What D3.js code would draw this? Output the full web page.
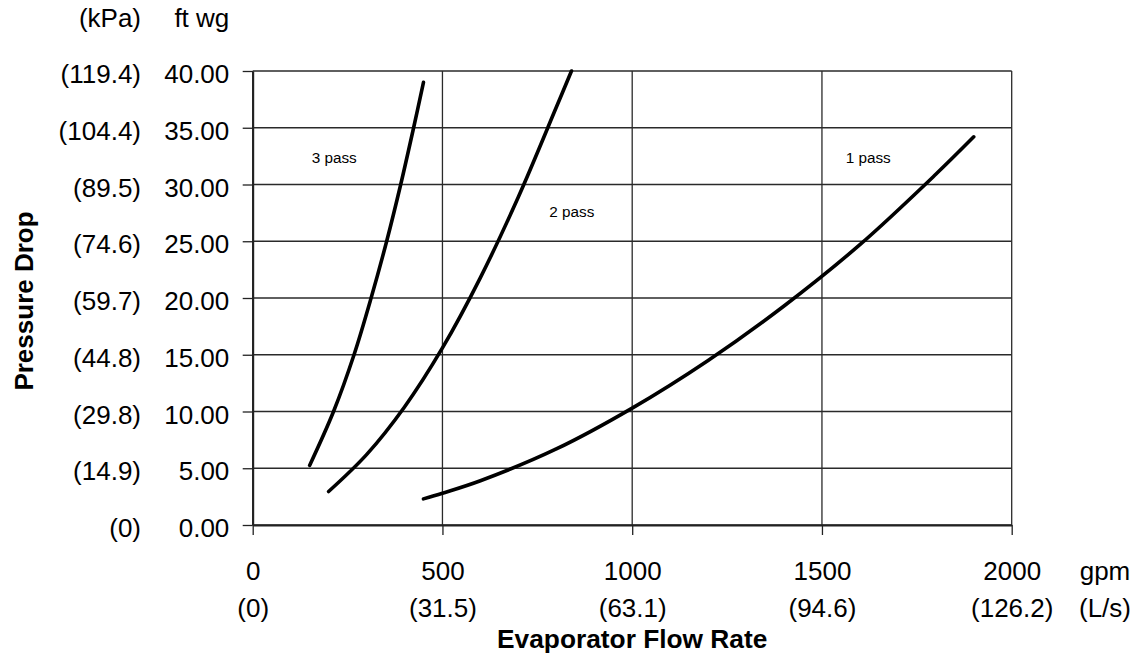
<!DOCTYPE html>
<html>
<head>
<meta charset="utf-8">
<script src="https://cdn.jsdelivr.net/npm/d3@7"></script>
<style>
  html, body { margin: 0; padding: 0; background: #fff; }
  svg { display: block; }
  text { font-family: "Liberation Sans", Arial, sans-serif; fill: #000; }
</style>
</head>
<body>
<svg id="chart" width="1135" height="671"></svg>
<script>
// ---- data ----
const flowTicks = [0, 500, 1000, 1500, 2000];            // gpm
const flowTicksLs = ["(0)", "(31.5)", "(63.1)", "(94.6)", "(126.2)"]; // L/s
const dropTicks = [0, 5, 10, 15, 20, 25, 30, 35, 40];    // ft wg
const dropTicksKpa = ["(0)", "(14.9)", "(29.8)", "(44.8)", "(59.7)", "(74.6)", "(89.5)", "(104.4)", "(119.4)"];

const pass3Flow = [150, 213, 267, 312, 353, 390, 424, 450];
const pass3Drop = [5.25, 10, 15, 20, 25, 30, 35, 39];

const pass2Flow = [200, 300, 400, 500, 600, 700, 800, 840];
const pass2Drop = [2.95, 6.2, 10.4, 15.6, 21.8, 28.9, 36.8, 40.0];

const pass1Flow = [450, 500, 600, 800, 1000, 1200, 1400, 1600, 1800, 1900];
const pass1Drop = [2.3, 2.8, 3.9, 6.7, 10.3, 14.5, 19.3, 24.7, 30.9, 34.2];

const seriesLabels = ["3 pass", "2 pass", "1 pass"];
const labelFlow = [155.5, 781.5, 1562.5];
const labelDrop = [31.92, 27.16, 31.92];

// ---- layout ----
const svg = d3.select("#chart");
const x0 = 252.7, x1 = 1011.7, yB = 525, yT = 71;
const x = d3.scaleLinear().domain([0, 2000]).range([x0, x1]);
const y = d3.scaleLinear().domain([0, 40]).range([yB, yT]);
const FONT = "Liberation Sans, Arial, sans-serif";

// grid
const grid = svg.append("g").attr("stroke", "#2a2a2a").attr("stroke-width", 1.3);
grid.selectAll("line.h").data(dropTicks).join("line").attr("class", "h")
  .attr("x1", x0).attr("x2", x1).attr("y1", d => y(d)).attr("y2", d => y(d));
grid.selectAll("line.v").data(flowTicks).join("line").attr("class", "v")
  .attr("x1", d => x(d)).attr("x2", d => x(d)).attr("y1", yB).attr("y2", yT);

// left axis (ft wg)
const gL = svg.append("g").attr("transform", `translate(${x0},0)`)
  .call(d3.axisLeft(y).tickValues(dropTicks).tickSize(10).tickSizeOuter(0).tickPadding(13.4)
    .tickFormat(d => d.toFixed(2)));
gL.attr("font-family", FONT).attr("font-size", 26);
gL.select(".domain").attr("stroke", "#222").attr("stroke-width", 2);
gL.selectAll(".tick line").attr("stroke", "#222").attr("stroke-width", 1.3);
gL.selectAll("text").attr("dy", null).attr("y", 11.5).attr("fill", "#000");

// left axis (kPa)
const gK = svg.append("g").attr("transform", `translate(${x0},0)`)
  .call(d3.axisLeft(y).tickValues(dropTicks).tickSize(0).tickPadding(111.7)
    .tickFormat((d, i) => dropTicksKpa[i]));
gK.attr("font-family", FONT).attr("font-size", 26);
gK.select(".domain").remove();
gK.selectAll("text").attr("dy", null).attr("y", 11.5).attr("fill", "#000");

// bottom axis (gpm)
const gB = svg.append("g").attr("transform", `translate(0,${yB})`)
  .call(d3.axisBottom(x).tickValues(flowTicks).tickSize(10).tickSizeOuter(0).tickFormat(d3.format("d")));
gB.attr("font-family", FONT).attr("font-size", 26);
gB.select(".domain").attr("stroke", "#222").attr("stroke-width", 2);
gB.selectAll(".tick line").attr("stroke", "#222").attr("stroke-width", 1.3);
gB.selectAll("text").attr("dy", null).attr("y", 55).attr("fill", "#000");

// bottom axis (L/s)
const gS = svg.append("g").attr("transform", `translate(0,${yB})`)
  .call(d3.axisBottom(x).tickValues(flowTicks).tickSize(0).tickFormat((d, i) => flowTicksLs[i]));
gS.attr("font-family", FONT).attr("font-size", 26);
gS.select(".domain").remove();
gS.selectAll("text").attr("dy", null).attr("y", 92).attr("fill", "#000");

// unit labels
svg.append("text").attr("x", 141).attr("y", 26.5).attr("text-anchor", "end")
  .attr("font-size", 26).text("(kPa)");
svg.append("text").attr("x", 229.3).attr("y", 26.5).attr("text-anchor", "end")
  .attr("font-size", 26).text("ft wg");
svg.append("text").attr("x", 1105).attr("y", 580).attr("text-anchor", "middle")
  .attr("font-size", 26).text("gpm");
svg.append("text").attr("x", 1105).attr("y", 617).attr("text-anchor", "middle")
  .attr("font-size", 26).text("(L/s)");

// titles
svg.append("text").attr("x", (x0 + x1) / 2).attr("y", 648).attr("text-anchor", "middle")
  .attr("font-size", 26.3).attr("font-weight", "bold").text("Evaporator Flow Rate");
svg.append("text").attr("transform", "translate(33,301) rotate(-90)").attr("text-anchor", "middle")
  .attr("font-size", 26).attr("font-weight", "bold").text("Pressure Drop");

// curves
const line = d3.line().x(d => x(d[0])).y(d => y(d[1])).curve(d3.curveCatmullRom.alpha(0.5));
const series = [
  d3.zip(pass3Flow, pass3Drop),
  d3.zip(pass2Flow, pass2Drop),
  d3.zip(pass1Flow, pass1Drop)
];
svg.append("g").selectAll("path").data(series).join("path")
  .attr("d", line).attr("fill", "none").attr("stroke", "#000")
  .attr("stroke-width", 3.6).attr("stroke-linecap", "round").attr("stroke-linejoin", "round");

// series labels
svg.append("g").selectAll("text").data(seriesLabels).join("text")
  .attr("x", (d, i) => x(labelFlow[i])).attr("y", (d, i) => y(labelDrop[i]))
  .attr("font-size", 15.3).text(d => d);
</script>
</body>
</html>
